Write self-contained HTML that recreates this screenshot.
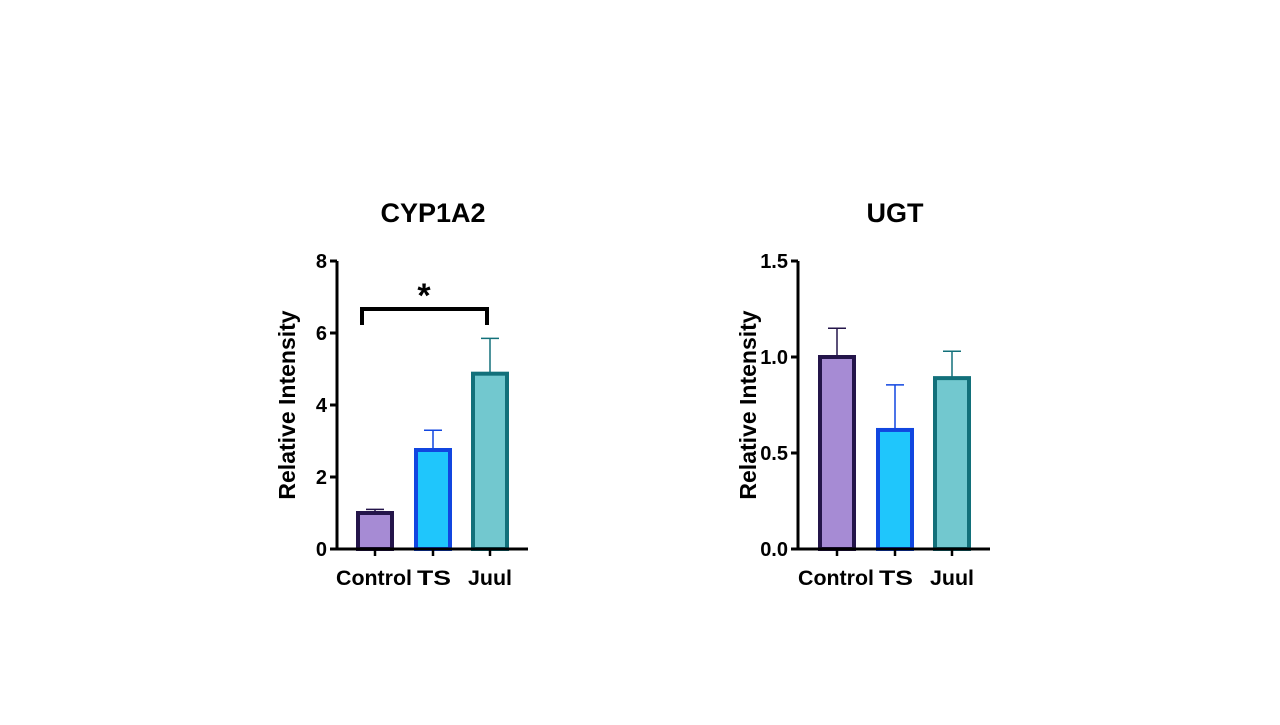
<!DOCTYPE html>
<html><head><meta charset="utf-8"><style>
body{margin:0;background:#fff;}
svg text{font-family:"Liberation Sans",Arial,sans-serif;font-weight:bold;fill:#000;}
</style></head><body>
<svg id="c" width="1280" height="720"></svg>
<script>
const categories=["Control","TS","Juul"];
const cypValues=[1.0,2.75,4.87];
const cypErrors=[0.1,0.55,0.98];
const cypTicks=[0,2,4,6,8];
const ugtValues=[1.0,0.62,0.89];
const ugtErrors=[0.15,0.235,0.14];
const ugtTicks=["0.0","0.5","1.0","1.5"];
const fills=["#a68bd4","#1fc6fc","#72c8cf"];
const strokes=["#24154a","#1146e0","#12707a"];
const errCols=["#24154a","#1146e0","#12707a"];
const NS="http://www.w3.org/2000/svg";
const svg=document.getElementById('c');
function mk(t,a,p){const e=document.createElementNS(NS,t);for(const k in a)e.setAttribute(k,a[k]);(p||svg).appendChild(e);return e;}
function chart(o){
  const g=mk('g',{});
  
  
  const y=v=>o.y0-(v/o.max)*(o.y0-o.y1);
  const t=mk('text',{x:o.tx,y:222,'font-size':27,'text-anchor':'middle'},g);t.textContent=o.title;
  
  const yl=mk('text',{transform:`translate(${o.ax-42},405) rotate(-90)`,'font-size':23,'text-anchor':'middle'},g);yl.textContent="Relative Intensity";
  
  o.ticks.forEach(tv=>{const v=parseFloat(tv);const yy=y(v);
    mk('line',{x1:o.ax-7,x2:o.ax,y1:yy,y2:yy,stroke:'#000','stroke-width':3},g);
    const l=mk('text',{x:o.ax-10,y:yy+7,'font-size':20,'text-anchor':'end'},g);l.textContent=tv;
    });
  o.values.forEach((v,i)=>{const cx=o.cx[i];const top=y(v);const et=y(v+o.err[i]);
    const el=mk('line',{x1:cx,x2:cx,y1:top,y2:et,stroke:errCols[i],'stroke-width':1.5},g);
    
    mk('line',{x1:cx-9,x2:cx+9,y1:et,y2:et,stroke:errCols[i],'stroke-width':1.5},g);
    const r=mk('rect',{x:cx-17,y:top,width:34,height:o.y0-top,fill:fills[i],stroke:strokes[i],'stroke-width':4},g);
    
    mk('line',{x1:cx,x2:cx,y1:o.y0,y2:o.y0+7,stroke:'#000','stroke-width':2.5},g);
  });
  mk('line',{x1:o.ax,x2:o.ax,y1:o.y1,y2:o.y0+1.5,stroke:'#000','stroke-width':3},g);
  mk('line',{x1:o.ax-1.5,x2:o.xe,y1:o.y0,y2:o.y0,stroke:'#000','stroke-width':3},g);
  const lx=[o.cx[0]-39,o.cx[1]-16,o.cx[2]-22];
  categories.forEach((c,i)=>{const l=mk('text',{x:lx[i],y:585,'font-size':21,'textLength':[76,34,44][i],'lengthAdjust':'spacingAndGlyphs'},g);l.textContent=c;
    });
  return g;
}
chart({name:'cyp1a2-chart',title:'CYP1A2',tx:433,ax:337,xe:528,y0:549,y1:261,max:8,ticks:cypTicks,values:cypValues,err:cypErrors,cx:[375,433,490]});
chart({name:'ugt-chart',title:'UGT',tx:895,ax:798,xe:990,y0:549,y1:261,max:1.5,ticks:ugtTicks,values:ugtValues,err:ugtErrors,cx:[837,895,952]});
const br=mk('path',{d:'M362 325 V309 H487 V325',fill:'none',stroke:'#000','stroke-width':4});

const st=mk('text',{x:424,y:307,'font-size':34,'text-anchor':'middle'});st.textContent='*';

</script>
</body></html>
